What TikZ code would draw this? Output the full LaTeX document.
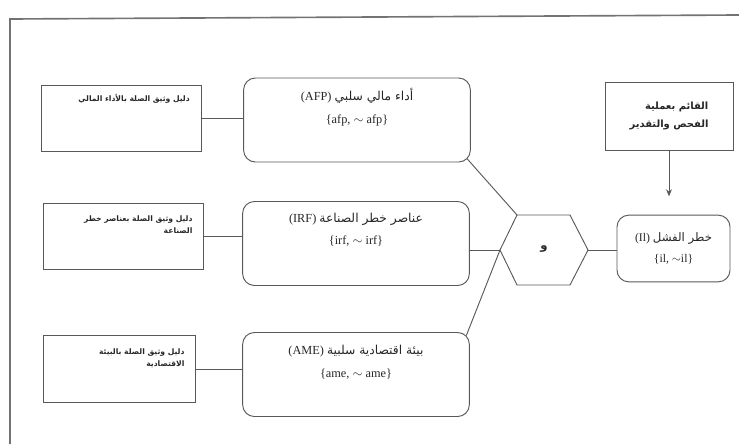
\documentclass[tikz,border=0pt]{standalone}
\usepackage{fontspec}
\setmainfont{Liberation Serif}
\newfontfamily\arabicfont[Script=Arabic]{DejaVu Sans}
\TeXXeTstate=1
\usetikzlibrary{calc,positioning,arrows.meta}
\newcommand{\artext}[1]{{\arabicfont\beginR #1\endR}}

\begin{document}
\begin{tikzpicture}[x=0.03cm, y=-0.03cm, line width=0.8pt, color=black!65, text=black!85,
  evid/.style={draw, minimum width=4.8cm, minimum height=2cm},
  evtxt/.style={inner sep=0pt, align=right, font=\fontsize{6.5}{10}\selectfont\bfseries},
  var/.style={draw, rounded corners=10pt, minimum width=6.8cm, minimum height=2.52cm},
  vartxt/.style={inner sep=0pt, align=center, font=\fontsize{10.5}{19}\selectfont},
  outbox/.style={draw, rounded corners=10pt, minimum width=3.39cm, minimum height=2cm,
    align=center, font=\fontsize{10}{18}\selectfont},
  auditor/.style={draw, minimum width=3.84cm, minimum height=2.04cm,
    align=right, font=\fontsize{8.5}{15}\selectfont\bfseries}]
  \useasboundingbox (0,0) rectangle (739,444);
  % frame of the scanned page
  \draw[line width=1.4pt, black!55] (10,444) -- (10,19) -- (739,15);

  % evidence boxes
  \node[evid] (l1) at (121.5,118.5) {};
  \node[evid] (l2) at (123,236.5) {};
  \node[evid, minimum width=4.56cm] (l3) at (119,369) {};
  \node[evtxt, below left=8pt and 10pt of l1.north east] (l1txt)
    {\artext{دليل وثيق الصلة بالأداء المالي}};
  \node[evtxt, below left=11pt and 9pt of l2.north east] (l2txt)
    {\artext{دليل وثيق الصلة بعناصر خطر}\\ \artext{الصناعة}};
  \node[evtxt, below left=11pt and 9pt of l3.north east] (l3txt)
    {\artext{دليل وثيق الصلة بالبيئة}\\ \artext{الاقتصادية}};

  % variables
  \node[var] (m1) at (357,120) {};
  \node[var] (m2) at (356,243.5) {};
  \node[var] (m3) at (356,374.5) {};
  \node[vartxt, below=9pt of m1.north] (m1txt)
    {\beginR{\arabicfont أداء مالي سلبي} \beginL(AFP)\endL\endR\\ \{afp, $\sim$ afp\}};
  \node[vartxt, below=10pt of m2.north] (m2txt)
    {\beginR{\arabicfont عناصر خطر الصناعة} \beginL(IRF)\endL\endR\\ \{irf, $\sim$ irf\}};
  \node[vartxt, below=11pt of m3.north] (m3txt)
    {\beginR{\arabicfont بيئة اقتصادية سلبية} \beginL(AME)\endL\endR\\ \{ame, $\sim$ ame\}};

  % and-node
  \coordinate (hexW) at (500,250);
  \coordinate (hexNW) at (517,215);
  \coordinate (hexNE) at (570,215);
  \coordinate (hexE) at (588,250);
  \coordinate (hexSE) at (570,285);
  \coordinate (hexSW) at (517,285);
  \draw (hexW) -- (hexNW) -- (hexNE) -- (hexE) -- (hexSE) -- (hexSW) -- cycle;
  \node[font=\fontsize{10}{12}\selectfont\bfseries] (and) at (544,249) {\artext{و}};

  % outcome and auditor
  \node[outbox] (r) at (673.5,248.5)
    {\beginR{\arabicfont خطر الفشل} \beginL(Il)\endL\endR\\ \{il, $\sim$il\}};
  \node[auditor] (t) at (669,116)
    {\artext{القائم بعملية}\\ \artext{الفحص والتقدير}};

  % connectors
  \draw (l1.east) -- (l1.east -| m1.west);
  \draw (l2.east) -- (l2.east -| m2.west);
  \draw (l3.east) -- (l3.east -| m3.west);
  \draw ($(m1.south east)+(-3.5,-3.5)$) -- (hexNW);
  \draw (hexW -| m2.east) -- (hexW);
  \draw ($(m3.north east)+(-3.5,3.5)$) -- (hexW);
  \draw (hexE) -- (hexE -| r.west);
  \draw[-{Stealth[length=6pt,width=5pt]}, shorten >=0.55cm] (t.south) -- (t.south |- r.north);
\end{tikzpicture}
\end{document}
